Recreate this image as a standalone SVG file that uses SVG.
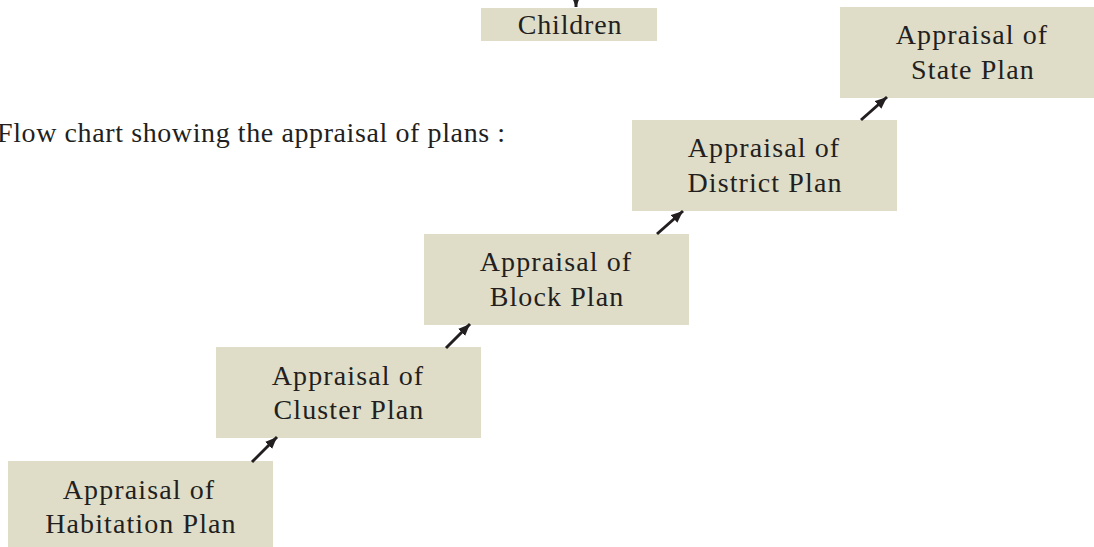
<svg xmlns="http://www.w3.org/2000/svg" width="1094" height="547" viewBox="0 0 1094 547">
<style>
.box{fill:#dfddc8}
.t{font-family:"Liberation Serif","DejaVu Serif",serif;font-size:28px;fill:#231f20;text-anchor:middle;letter-spacing:1.1px}
.title{font-family:"Liberation Serif","DejaVu Serif",serif;font-size:28px;fill:#231f20;letter-spacing:0.6px}
.c{stroke:#231f20;stroke-width:3;fill:none}
</style>
<defs>
<marker id="ah" viewBox="0 0 12 10" refX="12" refY="5" markerWidth="12" markerHeight="10" markerUnits="userSpaceOnUse" orient="auto">
<path d="M0,0 L12,5 L0,10 z" fill="#231f20"/>
</marker>
</defs>
<rect width="1094" height="547" fill="#ffffff"/>
<text class="title" x="-3" y="142">Flow chart showing the appraisal of  plans :</text>
<g id="children">
<rect class="box" x="481" y="8" width="176" height="33"/>
<text class="t" x="570" y="34" style="letter-spacing:0.8px">Children</text>
</g>
<g id="habitation">
<rect class="box" x="8" y="461" width="265" height="91"/>
<text class="t" x="139" y="499">Appraisal of</text>
<text class="t" x="141" y="533">Habitation Plan</text>
</g>
<g id="cluster">
<rect class="box" x="216" y="347" width="265" height="91"/>
<text class="t" x="348" y="385">Appraisal of</text>
<text class="t" x="349" y="419">Cluster Plan</text>
</g>
<g id="block">
<rect class="box" x="424" y="234" width="265" height="91"/>
<text class="t" x="556" y="271">Appraisal of</text>
<text class="t" x="557" y="306">Block Plan</text>
</g>
<g id="district">
<rect class="box" x="632" y="120" width="265" height="91"/>
<text class="t" x="764" y="157">Appraisal of</text>
<text class="t" x="765" y="192">District Plan</text>
</g>
<g id="state">
<rect class="box" x="840" y="7" width="265" height="91"/>
<text class="t" x="972" y="44">Appraisal of</text>
<text class="t" x="973" y="79">State Plan</text>
</g>
<g id="connectors">
<line class="c" x1="576" y1="-20" x2="576" y2="7" marker-end="url(#ah)"/>
<line class="c" x1="252" y1="462" x2="277" y2="437" marker-end="url(#ah)"/>
<line class="c" x1="446" y1="348" x2="470" y2="324" marker-end="url(#ah)"/>
<line class="c" x1="657" y1="234" x2="683" y2="211" marker-end="url(#ah)"/>
<line class="c" x1="861" y1="120" x2="887" y2="97" marker-end="url(#ah)"/>
</g>
</svg>
